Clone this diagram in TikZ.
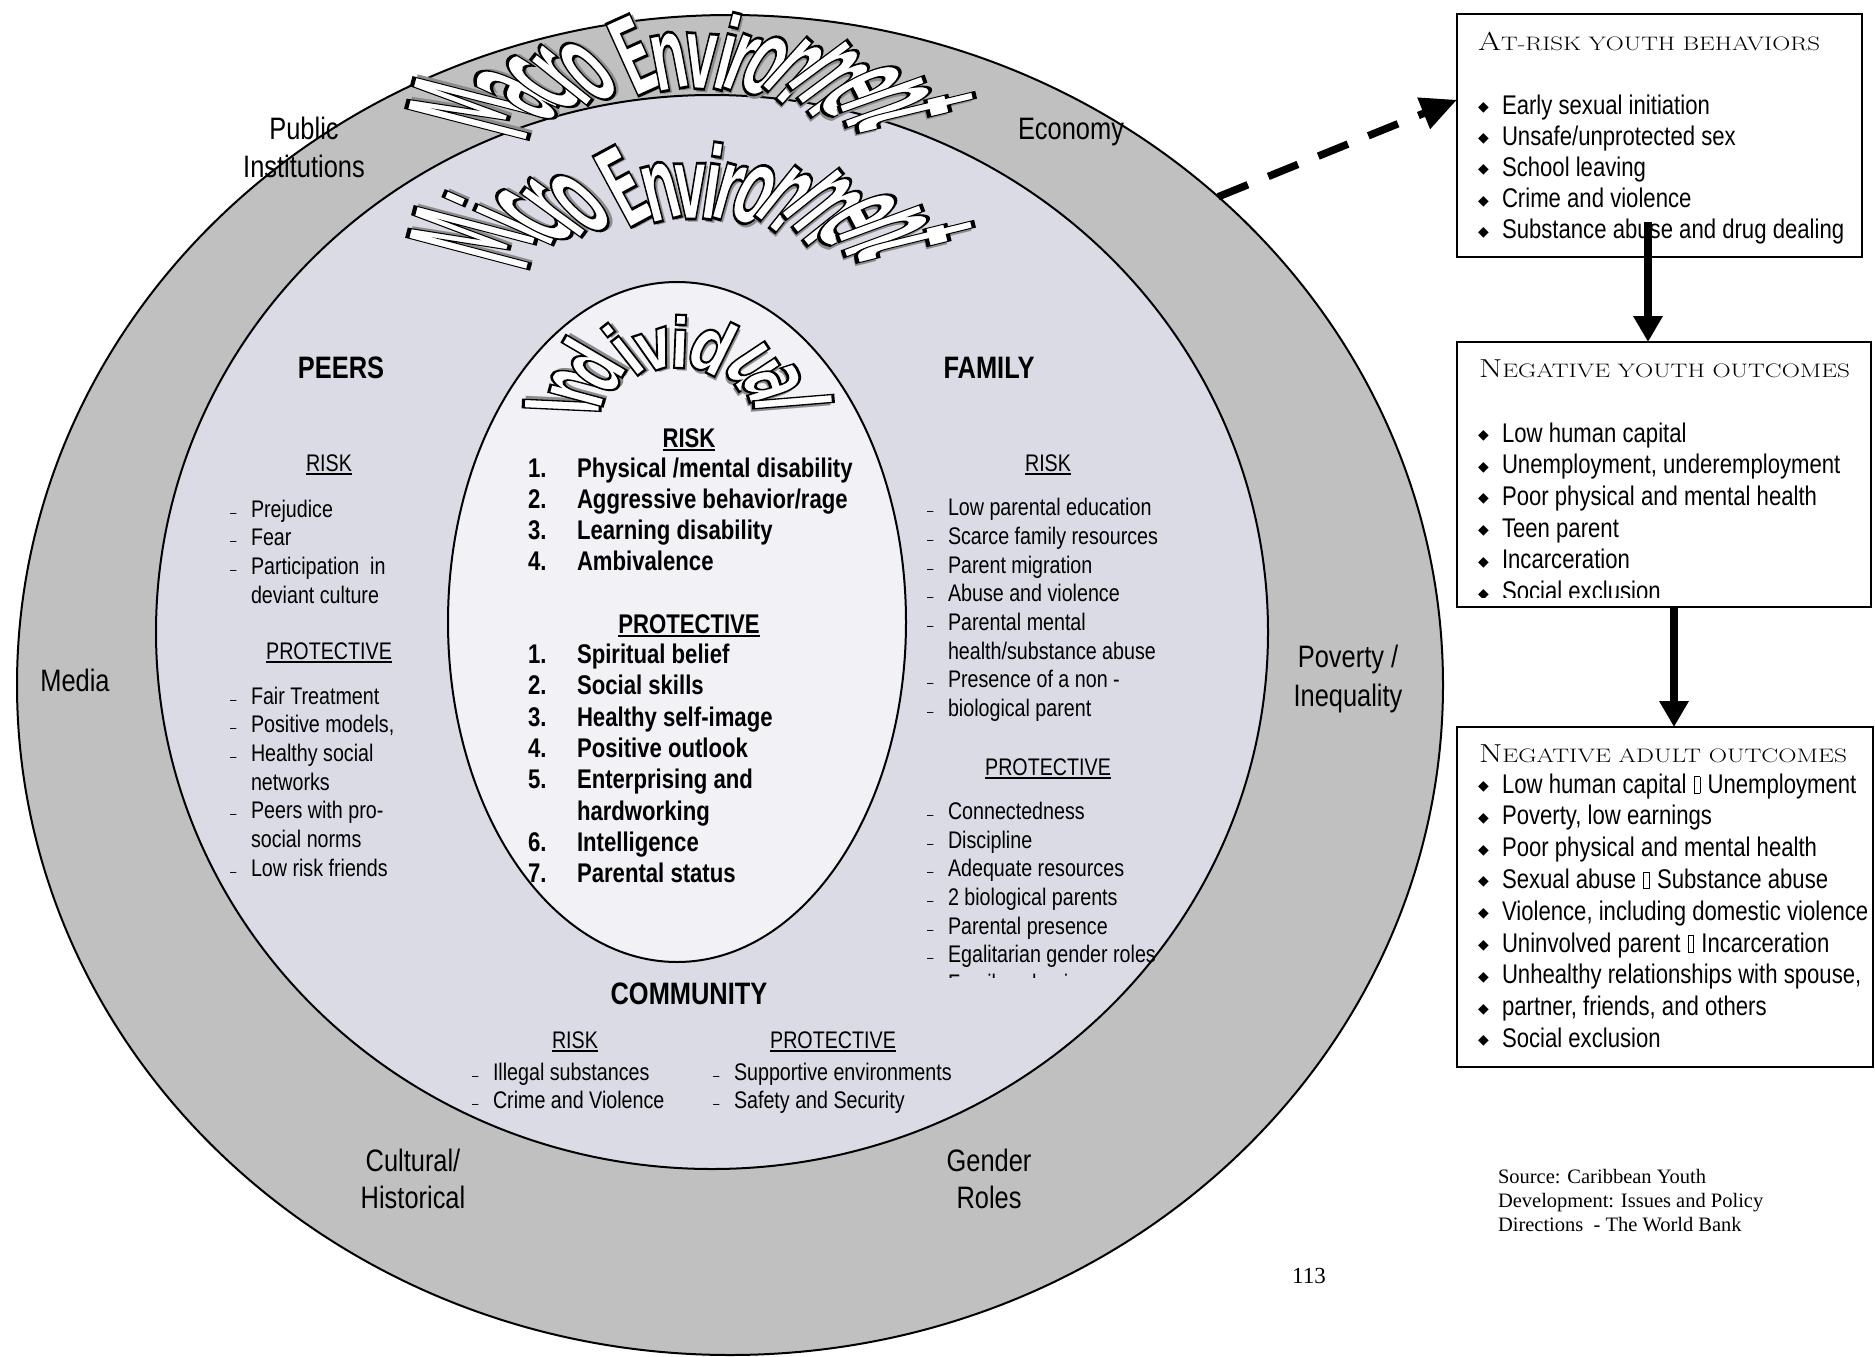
\documentclass[tikz,border=0pt]{standalone}
\usepackage{fontspec}
\usepackage{graphicx}
\usetikzlibrary{shapes.geometric,arrows.meta}
\newfontfamily\nar{Liberation Sans}[FakeStretch=0.82]
\newfontfamily\waf{DejaVu Sans}
\newfontfamily\tms{Liberation Serif}
\newfontfamily\symf{DejaVu Sans}
\definecolor{outerg}{RGB}{192,192,192}
\definecolor{microc}{RGB}{219,219,230}
\definecolor{indc}{RGB}{241,241,246}
\definecolor{shadowc}{RGB}{140,140,140}

% outlined WordArt letter: white fill, black stroke (text render mode 2), grey shadow
% #1 letter, #2 stroke width, #3/#4 shadow offsets
\newcommand\wl[4]{\leavevmode
 \rlap{\textcolor{shadowc}{\kern#3pt\raisebox{-#4pt}{#1}}}%
 \special{pdf:code 2 Tr 1 g 0 G #2 w}#1\special{pdf:code 0 Tr 0 g 0 G}}
\newcount\wlc
% #1 cx #2 cy #3 ai #4 bi #5 ao #6 bo #7 font size #8 xscale #9 list letter/param
\newcommand\archtext[9]{%
 \foreach \wch/\wt in {#9}{%
  \pgfmathsetmacro\wxi{#1+#3*cos(\wt)}%
  \pgfmathsetmacro\wyi{#2-#4*sin(\wt)}%
  \pgfmathsetmacro\wxo{#1+#5*cos(\wt)}%
  \pgfmathsetmacro\wyo{#2-#6*sin(\wt)}%
  \pgfmathsetmacro\wlen{veclen(\wxo-\wxi,\wyo-\wyi)}%
  \pgfmathsetmacro\wrot{atan2(\wyi-\wyo,\wxo-\wxi)-90}%
  \pgfmathsetmacro\wsy{\wlen/(0.729*#7)}%
  \pgfmathsetmacro\wsp{veclen((#3+#5)/2*sin(\wt),(#4+#6)/2*cos(\wt))/((#3+#5)/2)}%
  \pgfmathsetmacro\wsx{#8*(0.5+0.5*\wsp)}%
  \pgfmathsetmacro\wlw{2.0/sqrt(\wsx*\wsy)}%
  \pgfmathsetmacro\wsh{3/\wsx}%
  \pgfmathsetmacro\wsv{3/\wsy}%
  \global\advance\wlc by 1
  \node[anchor=base, rotate=\wrot] (wl\the\wlc) at (\wxi,\wyi)
   {\scalebox{\wsx}[\wsy]{\fontsize{#7}{#7}\selectfont\waf\bfseries\wl{\wch}{\wlw}{\wsh}{\wsv}}};
 }}
\newcommand\ul[1]{\setbox0=\hbox{#1}\rlap{\rule[-3.5pt]{\wd0}{1.6pt}}\box0}
\newcommand\ditem[2]{\makebox[21pt][l]{\ifnum#1=1 {\fontsize{14}{14}\selectfont –}\fi}#2}
\newcommand\bitem[1]{\makebox[24pt][l]{\raisebox{2.5pt}{\symf\fontsize{14}{14}\selectfont ◆}}#1}
\newcommand\tofu{\kern1pt{\setlength\fboxsep{0pt}\setlength\fboxrule{0.8pt}\fbox{\rule{0pt}{16pt}\kern5pt}}\kern1pt}
\newcommand\hsc[2]{{\fontsize{26}{26}\selectfont #1}{\fontsize{19.5}{19.5}\selectfont #2}}

\begin{document}
\begin{tikzpicture}[x=1pt,y=-1pt,
  every node/.style={inner sep=0pt, outer sep=0pt},
  lbl/.style={font=\nar\fontsize{31}{38}\selectfont, anchor=base},
  body/.style={font=\nar\fontsize{24}{28.7}\selectfont, anchor=base west},
  bodyc/.style={font=\nar\fontsize{24}{28.7}\selectfont, anchor=base},
  bld/.style={font=\nar\bfseries\fontsize{27}{31}\selectfont, anchor=base west},
  bldc/.style={font=\nar\bfseries\fontsize{27}{31}\selectfont, anchor=base},
  hd/.style={font=\nar\bfseries\fontsize{31}{36}\selectfont, anchor=base},
  boxt/.style={font=\nar\fontsize{27}{32}\selectfont, anchor=base west},
  boxh/.style={font=\rmfamily, anchor=base west},
  frame/.style={draw, line width=2.5pt, fill=white},
  ring/.style={ellipse, draw, line width=2pt},
  src/.style={font=\tms\fontsize{20.5}{24.5}\selectfont, anchor=base west},
  varr/.style={line width=8pt, -{Triangle[length=26pt,width=28pt]}},
  dasharr/.style={line width=7.5pt, dash pattern=on 32pt off 22pt, -{Triangle[length=36pt,width=32pt]}}
]
\useasboundingbox (0,0) rectangle (1875,1357);
\fill[white] (0,0) rectangle (1875,1357);

% rings
\node[ring, fill=outerg, minimum width=1426pt, minimum height=1340pt] (outer) at (730,685) {};
\node[ring, fill=microc, minimum width=1112pt, minimum height=1074pt] (micro) at (712,632) {};
\node[ring, fill=indc, minimum width=458pt, minimum height=680pt] (indiv) at (677,622) {};

% WordArt titles
\archtext{693}{150}{178}{61}{312}{135}{40}{1.3}{M/155, a/140.4, c/131.5, r/124.5, o/117.5, E/104, n/96, v/88, i/82, r/78, o/71.6, n/63.7, m/53.4, e/42.7, n/32.9, t/23.5}
\archtext{693}{280}{178}{61}{312}{135}{40}{1.3}{M/154.5, i/141.4, c/134.5, r/127.1, o/119.8, E/106.6, n/98.1, v/90.7, i/85.4, r/81.2, o/74.5, n/66.2, m/55.3, e/44.0, n/33.7, t/24}
\archtext{677}{410}{77}{42}{154}{93}{44}{1.3}{I/176, n/158, d/138.5, i/117.5, v/102, i/88.5, d/72, u/45, a/26, l/7}

% macro environment labels
\node[lbl] (pub1) at (304,139) {Public};
\node[lbl] (pub2) at (304,177) {Institutions};
\node[lbl] (econ) at (1071,139) {Economy};
\node[lbl] (media) at (75,691) {Media};
\node[lbl] (pov1) at (1348,667) {Poverty /};
\node[lbl] (pov2) at (1348,706) {Inequality};
\node[lbl] (cult1) at (413,1171) {Cultural/};
\node[lbl] (cult2) at (413,1208) {Historical};
\node[lbl] (gend1) at (989,1171) {Gender};
\node[lbl] (gend2) at (989,1208) {Roles};

% peers
\node[hd] (peers) at (341,378) {PEERS};
\node[bodyc] (prisk) at (329,471) {\ul{RISK}};
\foreach \y/\d/\t [count=\k] in {517/1/Prejudice, 545.7/1/Fear, 574.4/1/{Participation\ \ in}, 603.1/0/{deviant culture}}
  \node[body] (pr\k) at (230,\y) {\ditem{\d}{\t}};
\node[bodyc] (pprot) at (329,659) {\ul{PROTECTIVE}};
\foreach \y/\d/\t [count=\k] in {704/1/{Fair Treatment}, 732.7/1/{Positive models,}, 761.4/1/{Healthy social}, 790.1/0/networks, 818.8/1/{Peers with pro-}, 847.5/0/{social norms}, 876.2/1/{Low risk friends}}
  \node[body] (pp\k) at (230,\y) {\ditem{\d}{\t}};

% family
\node[hd] (family) at (989,378) {FAMILY};
\node[bodyc] (frisk) at (1048,471) {\ul{RISK}};
\foreach \y/\d/\t [count=\k] in {515.7/1/{Low parental education}, 544.4/1/{Scarce family resources}, 573.1/1/{Parent migration}, 601.8/1/{Abuse and violence}, 630.5/1/{Parental mental}, 659.2/0/{health/substance abuse}, 687.9/1/{Presence of a non -}, 716.6/1/{biological parent}}
  \node[body] (fr\k) at (927,\y) {\ditem{\d}{\t}};
\node[bodyc] (fprot) at (1048,775) {\ul{PROTECTIVE}};
\foreach \y/\d/\t [count=\k] in {819.3/1/Connectedness, 848/1/Discipline, 876.7/1/{Adequate resources}, 905.4/1/{2 biological parents}, 934.1/1/{Parental presence}, 962.8/1/{Egalitarian gender roles}}
  \node[body] (fp\k) at (927,\y) {\ditem{\d}{\t}};
\begin{scope}
  \clip (900,960) rectangle (1200,977);
  \node[body] (fp7) at (927,991.5) {\ditem{1}{Family cohesion}};
\end{scope}

% individual
\node[bldc] (irisk) at (689,447) {\ul{RISK}};
\foreach \y/\t [count=\k] in {477/{Physical /mental disability}, 508/{Aggressive behavior/rage}, 539/{Learning disability}, 570/Ambivalence}{
  \node[bld] (irn\k) at (528,\y) {\k.};
  \node[bld] (irt\k) at (577,\y) {\t};
}
\node[bldc] (iprot) at (689,633) {\ul{PROTECTIVE}};
\foreach \y/\n/\t [count=\k] in {663.5/1./{Spiritual belief}, 694.8/2./{Social skills}, 726.1/3./{Healthy self-image}, 757.4/4./{Positive outlook}, 788.7/5./{Enterprising and}, 820/{}/hardworking, 851.3/6./Intelligence, 882.6/7./{Parental status}}{
  \node[bld] (ipn\k) at (528,\y) {\n};
  \node[bld] (ipt\k) at (577,\y) {\t};
}

% community
\node[hd] (comm) at (689,1004) {COMMUNITY};
\node[bodyc] (crisk) at (575,1048) {\ul{RISK}};
\node[bodyc] (cprot) at (833,1048) {\ul{PROTECTIVE}};
\node[body] (cr1) at (472,1080) {\ditem{1}{Illegal substances}};
\node[body] (cr2) at (472,1108) {\ditem{1}{Crime and Violence}};
\node[body] (cp1) at (713,1080) {\ditem{1}{Supportive environments}};
\node[body] (cp2) at (713,1108) {\ditem{1}{Safety and Security}};

% boxes
\node[frame, minimum width=405pt, minimum height=243pt] (box1) at (1659.5,135.5) {};
\node[frame, minimum width=414pt, minimum height=265pt] (box2) at (1664,474.5) {};
\node[frame, minimum width=416pt, minimum height=340pt] (box3) at (1665,897) {};

\node[boxh] (h1) at (1478,50) {\resizebox{342pt}{\height}{\hsc{A}{T-RISK YOUTH BEHAVIORS}}};
\foreach \y/\t [count=\k] in {114/{Early sexual initiation}, 145.2/{Unsafe/unprotected sex}, 176.4/{School leaving}, 207.6/{Crime and violence}, 238.8/{Substance abuse and drug dealing}}
  \node[boxt] (b1i\k) at (1478,\y) {\bitem{\t}};

\node[boxh] (h2) at (1479,377) {\resizebox{371pt}{\height}{\hsc{N}{EGATIVE YOUTH OUTCOMES}}};
\foreach \y/\t [count=\k] in {442/{Low human capital}, 473.7/{Unemployment, underemployment}, 505.4/{Poor physical and mental health}, 537.1/{Teen parent}, 568.8/Incarceration}
  \node[boxt] (b2i\k) at (1478,\y) {\bitem{\t}};
\begin{scope}
  \clip (1460,560) rectangle (1868,597);
  \node[boxt] (b2i6) at (1478,600.5) {\bitem{Social exclusion}};
\end{scope}

\node[boxh] (h3) at (1479,762) {\resizebox{368pt}{\height}{\hsc{N}{EGATIVE ADULT OUTCOMES}}};
\foreach \y/\t [count=\k] in {793/{Low human capital \tofu{} Unemployment}, 824.8/{Poverty, low earnings}, 856.6/{Poor physical and mental health}, 888.4/{Sexual abuse \tofu{} Substance abuse}, 920.2/{Violence, including domestic violence}, 952/{Uninvolved parent \tofu{} Incarceration}, 983.8/{Unhealthy relationships with spouse,}, 1015.6/{partner, friends, and others}, 1047.4/{Social exclusion}}
  \node[boxt] (b3i\k) at (1478,\y) {\bitem{\t}};

% arrows
\draw[dasharr] (outer.45) -- (box1.170);
\coordinate (a1) at (1648,222);
\draw[varr] (a1) -- (box2.north -| a1);
\coordinate (a2) at (1674,0);
\draw[varr] (box2.south -| a2) -- (box3.north -| a2);

% source and page number
\node[src] (s1) at (1498,1183) {Source: Caribbean Youth};
\node[src] (s2) at (1498,1207) {Development: Issues and Policy};
\node[src] (s3) at (1498,1231) {Directions\ \ - The World Bank};
\node[font=\tms\fontsize{23}{23}\selectfont, anchor=base] (pg) at (1309,1283) {113};
\end{tikzpicture}
\end{document}
